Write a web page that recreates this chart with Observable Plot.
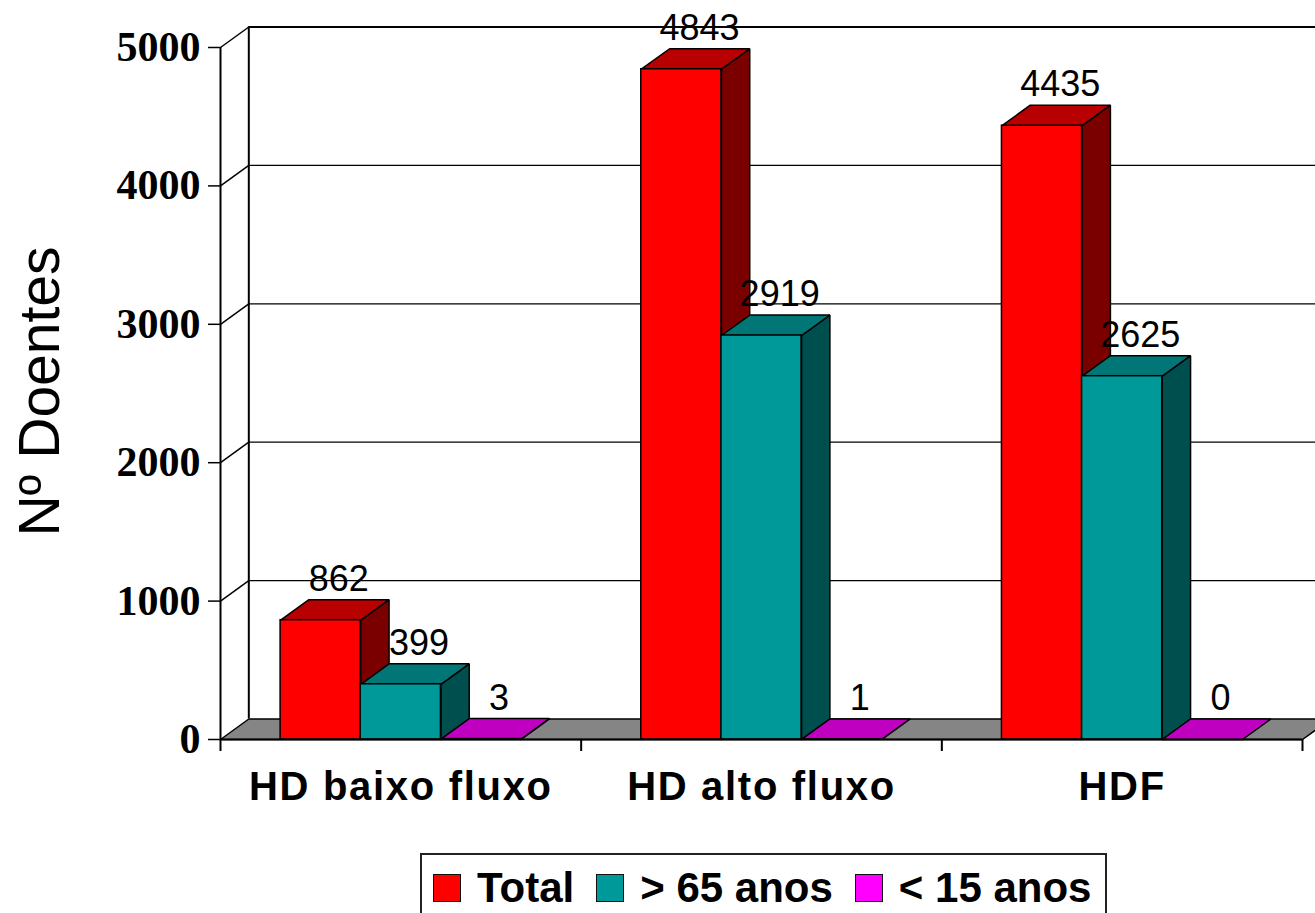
<!DOCTYPE html>
<html>
<head>
<meta charset="utf-8">
<script src="https://cdn.jsdelivr.net/npm/d3@7"></script>
<script src="https://cdn.jsdelivr.net/npm/@observablehq/plot@0.6"></script>
<style>
  html, body { margin: 0; padding: 0; background: #fff; overflow: hidden; width: 1315px; height: 913px; }
  #chart svg { display: block; }
  #legend {
    position: absolute; left: 420px; top: 853px; width: 687px; height: 80px;
    box-sizing: border-box; border: 2px solid #222; background: #fff;
    padding: 0 0 0 11px; white-space: nowrap;
  }
  #legend .row { display: flex; flex-wrap: nowrap; align-items: center; margin-top: 12px; white-space: nowrap; }
  #legend .sw { flex: none; width: 26px; height: 26px; border: 1px solid #111; margin-right: 16px; }
  #legend .lab { flex: none; white-space: nowrap; font-family: "Liberation Sans", Arial, sans-serif; font-weight: bold; font-size: 42px; line-height: 1; margin-right: 22px; color: #000; }
</style>
</head>
<body>
<div id="chart"></div>
<div id="legend"></div>
<script>
// ---- data ----
const categories = ["HD baixo fluxo", "HD alto fluxo", "HDF"];
const seriesNames = ["Total", "> 65 anos", "< 15 anos"];
const totalValues = [862, 4843, 4435];
const over65Values = [399, 2919, 2625];
const under15Values = [3, 1, 0];
const yTicks = [0, 1000, 2000, 3000, 4000, 5000];

// ---- styles ----
const frontColors = ["#FF0000", "#009999", "#FF00FF"];
const topColors = ["#B80000", "#007676", "#C000C0"];
const sideColors = ["#7A0000", "#004F4F", "#800080"];
const FONT = "Liberation Sans, Arial, sans-serif";

// ---- 3D geometry (in data units) ----
const GAP = 1 / 6;     // gap before first bar within category
const BARW = 2 / 9;    // bar width in category units
const DX = 0.0785;     // depth offset along x (category units)
const DY = 148;        // depth offset along y (value units)
const YMAX = 5000;

const seriesValues = [totalValues, over65Values, under15Values];

const bars = [];
categories.forEach((c, i) => {
  seriesValues.forEach((vals, k) => {
    const x1 = i + GAP + k * BARW;
    bars.push({cat: c, series: k, x1, x2: x1 + BARW, v: vals[i], id: `${i}-${k}`});
  });
});

function sidePoly(b) {
  return [[b.x2, 0], [b.x2 + DX, DY], [b.x2 + DX, b.v + DY], [b.x2, b.v], [b.x2, 0]]
    .map(([x, y]) => ({x, y, id: b.id}));
}
function topPoly(b) {
  return [[b.x1, b.v], [b.x1 + DX, b.v + DY], [b.x2 + DX, b.v + DY], [b.x2, b.v], [b.x1, b.v]]
    .map(([x, y]) => ({x, y, id: b.id}));
}

const floorPts = [[0, 0], [categories.length, 0], [categories.length + DX, DY], [DX, DY], [0, 0]]
  .map(([x, y]) => ({x, y}));

const marks = [];

// floor
marks.push(Plot.line(floorPts, {x: "x", y: "y", fill: "#858585", stroke: "#000", strokeWidth: 1.5, strokeLinejoin: "miter"}));
// back wall gridlines
marks.push(Plot.ruleY(yTicks.filter(d => d > 0 && d < YMAX), {y: d => d + DY, x1: DX, x2: categories.length + 0.2, stroke: "#000", strokeWidth: 1.2}));
marks.push(Plot.ruleY([YMAX], {y: d => d + DY, x1: DX, x2: categories.length + 0.2, stroke: "#000", strokeWidth: 2.2}));
// back wall left edge
marks.push(Plot.ruleX([DX], {y1: DY, y2: YMAX + DY, stroke: "#000", strokeWidth: 2}));
// side wall diagonals
marks.push(Plot.link(yTicks.filter(d => d > 0), {x1: 0, y1: d => d, x2: DX, y2: d => d + DY, stroke: "#000", strokeWidth: 1.5}));

// bars: sides, tops, fronts
[0, 1, 2].forEach(k => {
  const pts = bars.filter(b => b.series === k).flatMap(sidePoly);
  marks.push(Plot.line(pts, {x: "x", y: "y", z: "id", fill: sideColors[k], stroke: "#000", strokeWidth: 1.5, strokeLinejoin: "miter"}));
});
[0, 1, 2].forEach(k => {
  const pts = bars.filter(b => b.series === k).flatMap(topPoly);
  marks.push(Plot.line(pts, {x: "x", y: "y", z: "id", fill: topColors[k], stroke: "#000", strokeWidth: 1.5, strokeLinejoin: "miter"}));
});
[0, 1, 2].forEach(k => {
  marks.push(Plot.rect(bars.filter(b => b.series === k), {x1: "x1", x2: "x2", y1: 0, y2: "v", fill: frontColors[k], stroke: "#000", strokeWidth: 1.5}));
});

// axes
marks.push(Plot.ruleY([0], {x1: 0, x2: categories.length, stroke: "#000", strokeWidth: 2}));
marks.push(Plot.ruleX([0], {y1: 0, y2: YMAX, stroke: "#000", strokeWidth: 2}));
marks.push(Plot.axisX(d3.range(categories.length + 1), {tickSize: 12, tickFormat: () => "", strokeWidth: 2, label: null}));
marks.push(Plot.axisY(yTicks, {tickSize: 12, tickPadding: 8, tickFormat: d => `${d}`, fontSize: 42, fontWeight: "bold", fontFamily: "Liberation Serif, Times New Roman, serif", strokeWidth: 1.5, label: null}));

// category labels
marks.push(Plot.text(categories, {x: (d, i) => i + 0.5, y: 0, dy: 60, lineAnchor: "bottom", text: d => d, fontSize: 40, fontWeight: "bold", fontFamily: FONT, fill: "#000"}));

// value labels
marks.push(Plot.text(bars, {x: b => (b.x1 + b.x2) / 2 + DX / 2, y: b => b.v + DY, text: b => `${b.v}`, dx: 4, dy: -9, lineAnchor: "bottom", fontSize: 36, fontFamily: FONT, fill: "#000"}));

// y title
marks.push(Plot.text(["Nº Doentes"], {frameAnchor: "left", dx: -180, dy: -2, rotate: -90, textAnchor: "middle", lineAnchor: "middle", text: d => d, fontSize: 57, fontFamily: FONT, fill: "#000"}));

const plot = Plot.plot({
  width: 1315,
  height: 853,
  marginLeft: 220,
  marginRight: 13,
  marginTop: 47,
  marginBottom: 114,
  x: {type: "linear", domain: [0, categories.length]},
  y: {type: "linear", domain: [0, YMAX]},
  style: {background: "#fff", overflow: "visible"},
  marks
});
document.getElementById("chart").appendChild(plot);

// letter spacing for category labels
d3.select(plot).selectAll("text").filter(function() { return categories.includes(this.textContent); })
  .style("letter-spacing", "1.7px");

// legend
const legend = d3.select("#legend").append("div").attr("class", "row");
seriesNames.forEach((name, k) => {
  legend.append("div").attr("class", "sw").style("background", frontColors[k]);
  legend.append("div").attr("class", "lab").text(name);
});
</script>
</body>
</html>
